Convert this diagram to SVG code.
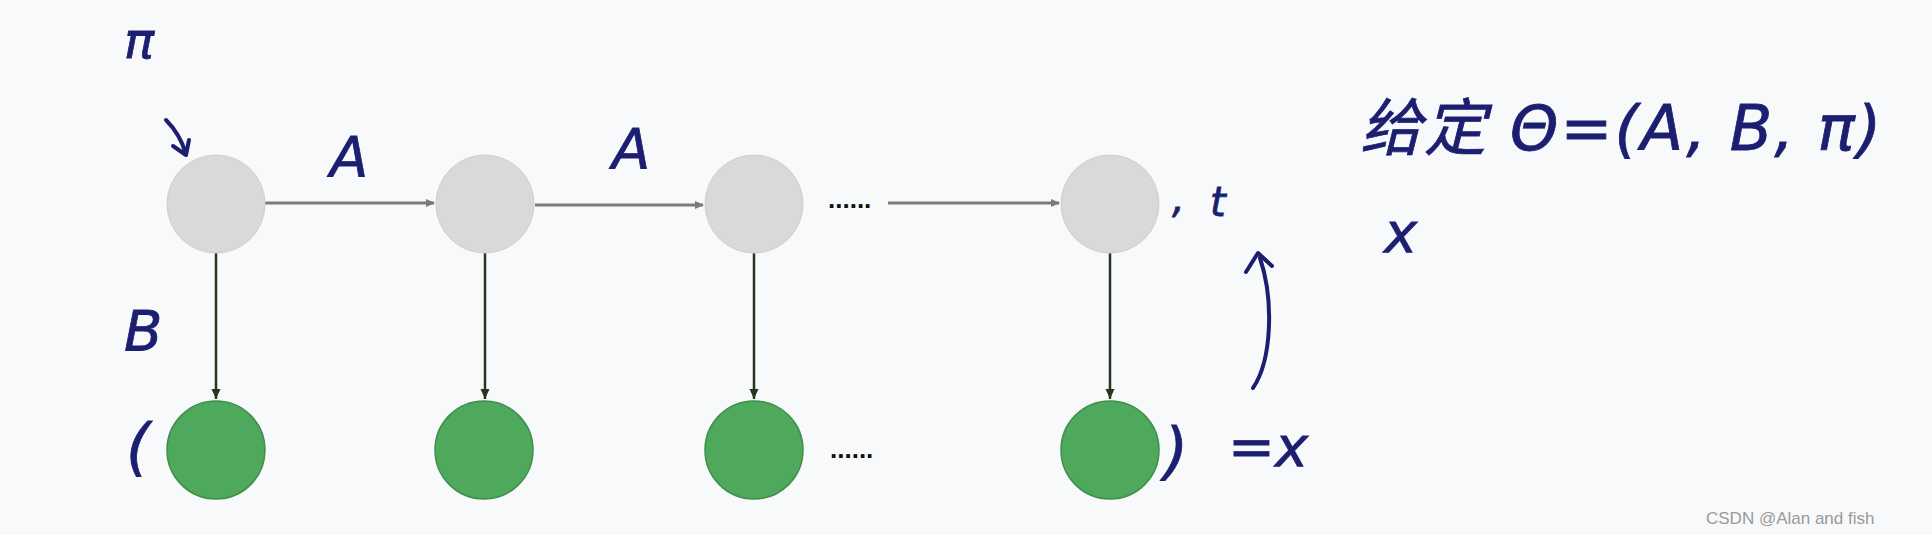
<svg xmlns="http://www.w3.org/2000/svg" width="1932" height="535" viewBox="0 0 1932 535">
<style>
.hid{fill:#d9d9d9;stroke:#cfcfcf;stroke-width:1}
.obs{fill:#4fa95c;stroke:#3d8f4a;stroke-width:1.5}
.h{stroke:#7a7a7a;stroke-width:3;fill:none}
.v{stroke:#27361e;stroke-width:2.5;fill:none}
.hw{font-family:"DejaVu Sans","Noto Sans CJK SC",sans-serif;fill:#1c1f70;stroke:#1c1f70;stroke-width:0.8;font-style:italic}
.pen{stroke:#1c1f70;stroke-width:4;fill:none;stroke-linecap:round;stroke-linejoin:round}
.dots{font-family:"Liberation Sans",sans-serif;font-size:26px;fill:#111;font-weight:bold}
</style>
<defs>
<marker id="ag" markerWidth="10" markerHeight="10" refX="8" refY="5" orient="auto" markerUnits="userSpaceOnUse"><path d="M0,1 L9,5 L0,9 z" fill="#7a7a7a"/></marker>
<marker id="ad2" markerWidth="12" markerHeight="12" refX="10" refY="6" orient="auto" markerUnits="userSpaceOnUse"><path d="M0,1.5 L10,6 L0,10.5 z" fill="#27361e"/></marker>
</defs>
<rect width="1932" height="535" fill="#f8f9fb"/>
<g id="connectors">
<line class="h" x1="265" y1="203" x2="434" y2="203" marker-end="url(#ag)"/>
<line class="h" x1="535" y1="205" x2="703" y2="205" marker-end="url(#ag)"/>
<line class="h" x1="888" y1="203" x2="1059" y2="203" marker-end="url(#ag)"/>
<line class="v" x1="216" y1="253" x2="216" y2="399" marker-end="url(#ad2)"/>
<line class="v" x1="485" y1="253" x2="485" y2="399" marker-end="url(#ad2)"/>
<line class="v" x1="754" y1="253" x2="754" y2="399" marker-end="url(#ad2)"/>
<line class="v" x1="1110" y1="253" x2="1110" y2="399" marker-end="url(#ad2)"/>
</g>
<g id="h1"><ellipse class="hid" cx="216" cy="204" rx="49" ry="49"/></g>
<g id="h2"><ellipse class="hid" cx="485" cy="204" rx="49" ry="49"/></g>
<g id="h3"><ellipse class="hid" cx="754" cy="204" rx="49" ry="49"/></g>
<g id="h4"><ellipse class="hid" cx="1110" cy="204" rx="49" ry="49"/></g>
<g id="o1"><ellipse class="obs" cx="216" cy="450" rx="49" ry="49"/></g>
<g id="o2"><ellipse class="obs" cx="484" cy="450" rx="49" ry="49"/></g>
<g id="o3"><ellipse class="obs" cx="754" cy="450" rx="49" ry="49"/></g>
<g id="o4"><ellipse class="obs" cx="1110" cy="450" rx="49" ry="49"/></g>
<text class="dots" x="828" y="208">......</text>
<text class="dots" x="830" y="458">......</text>
<g id="annotations">
<text class="hw" x="124" y="58" font-size="50">π</text>
<path class="pen" d="M166,120 Q180,134 186,154 M173,146 L186,155 L189,140"/>
<text class="hw" x="330" y="176" font-size="56">A</text>
<text class="hw" x="612" y="168" font-size="56">A</text>
<text class="hw" x="124" y="350" font-size="56">B</text>
<text class="hw" x="126" y="468" font-size="62">(</text>
<text class="hw" x="1172" y="212" font-size="40">,</text>
<text class="hw" x="1210" y="216" font-size="40">t</text>
<path class="pen" d="M1253,388 C1272,360 1274,300 1260,258 M1246,272 L1258,253 L1272,266"/>
<text class="hw" x="1164" y="472" font-size="62">)</text>
<text class="hw" x="1228" y="466" font-size="56">=x</text>
<text class="hw" x="1360" y="150" font-size="62" letter-spacing="2">给定 Θ=(A, B, π)</text>
<text class="hw" x="1384" y="252" font-size="56">x</text>
</g>
<text x="1706" y="524" font-family="Liberation Sans,sans-serif" font-size="17" fill="#9a9a9a">CSDN @Alan and fish</text>
</svg>
